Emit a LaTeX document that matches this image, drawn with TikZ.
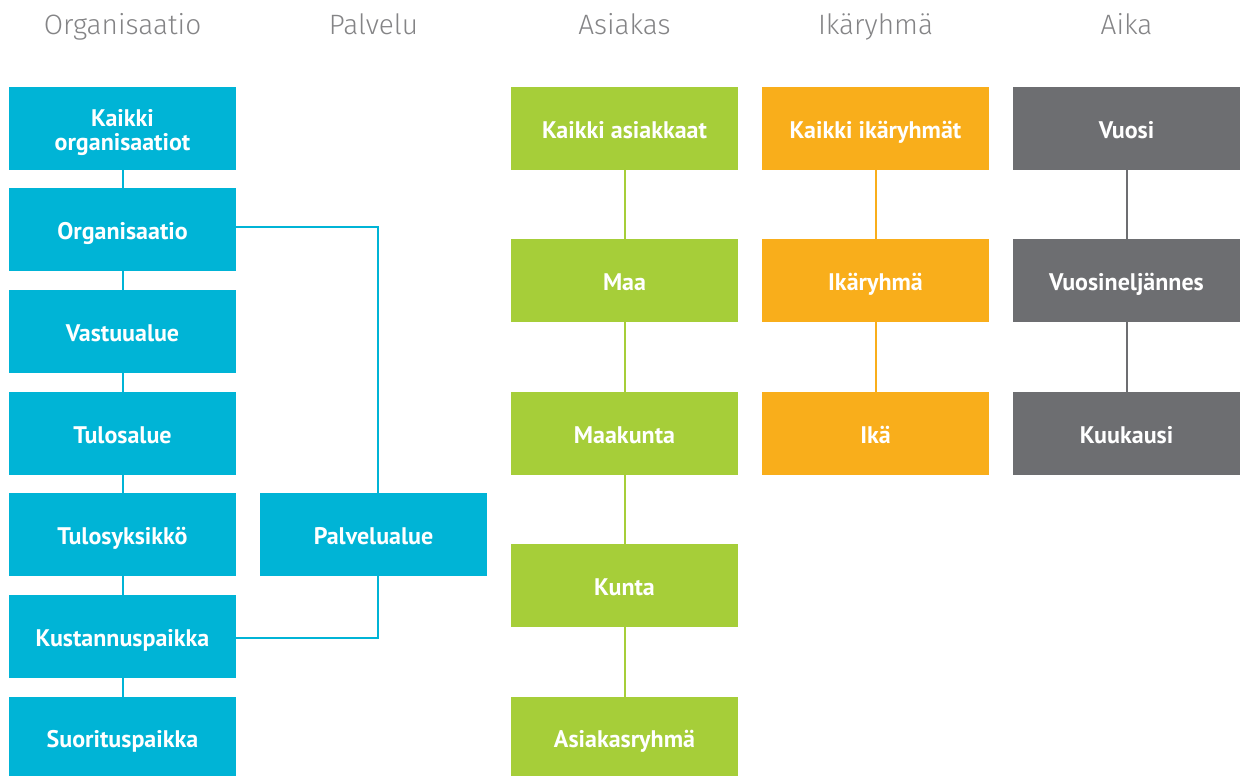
\documentclass[tikz,border=0pt]{standalone}
\usepackage{fontspec}
\setmainfont{PT Sans}
\newfontfamily\hdrfont{Fira Sans Light}
\definecolor{cyanbox}{RGB}{0,180,214}
\definecolor{greenbox}{RGB}{166,206,57}
\definecolor{orangebox}{RGB}{249,174,27}
\definecolor{graybox}{RGB}{109,110,113}
\definecolor{hdrgray}{RGB}{132,132,134}
\tikzset{
  box/.style={rectangle, inner sep=0pt, minimum width=227pt, minimum height=83pt,
    text height=20pt, text depth=0pt,
    text=white, font=\fontsize{24}{24}\selectfont\bfseries, align=center},
  lastbox/.style={box, minimum height=79pt, text height=22pt},
  twoline/.style={text height=43pt},
  cbox/.style={box, fill=cyanbox},
  gbox/.style={box, fill=greenbox},
  obox/.style={box, fill=orangebox},
  kbox/.style={box, fill=graybox},
  hdr/.style={anchor=base, inner sep=0pt, text=hdrgray, font=\hdrfont\fontsize{28}{34}\selectfont},
  link/.style={line width=2pt},
}
\begin{document}
\begin{tikzpicture}[x=1pt, y=-1pt]
\useasboundingbox (0,0) rectangle (1246,776);

% column headings
\node[hdr] (h1) at (122.5,35) {Organisaatio};
\node[hdr] (h2) at (373.5,35) {Palvelu};
\node[hdr] (h3) at (624.5,35) {Asiakas};
\node[hdr] (h4) at (875.5,35) {Ikäryhmä};
\node[hdr] (h5) at (1126.5,35) {Aika};

% organisation hierarchy
\node[cbox, twoline] (o1) at (122.5,128.5) {Kaikki\\organisaatiot};
\node[cbox] (o2) at (122.5,229.5) {Organisaatio};
\node[cbox] (o3) at (122.5,331.5) {Vastuualue};
\node[cbox] (o4) at (122.5,433.5) {Tulosalue};
\node[cbox] (o5) at (122.5,534.5) {Tulosyksikkö};
\node[cbox] (o6) at (122.5,636.5) {Kustannuspaikka};
\node[cbox, lastbox] (o7) at (122.5,736.5) {Suorituspaikka};

% service area
\node[cbox] (p1) at (373.5,534.5) {Palvelualue};

% customer hierarchy
\node[gbox] (a1) at (624.5,128.5) {Kaikki asiakkaat};
\node[gbox] (a2) at (624.5,280.5) {Maa};
\node[gbox] (a3) at (624.5,433.5) {Maakunta};
\node[gbox] (a4) at (624.5,585.5) {Kunta};
\node[gbox, lastbox] (a5) at (624.5,736.5) {Asiakasryhmä};

% age groups
\node[obox] (i1) at (875.5,128.5) {Kaikki ikäryhmät};
\node[obox] (i2) at (875.5,280.5) {Ikäryhmä};
\node[obox] (i3) at (875.5,433.5) {Ikä};

% time
\node[kbox] (t1) at (1126.5,128.5) {Vuosi};
\node[kbox] (t2) at (1126.5,280.5) {Vuosineljännes};
\node[kbox] (t3) at (1126.5,433.5) {Kuukausi};

% vertical links
\foreach \u/\v in {o1/o2,o2/o3,o3/o4,o4/o5,o5/o6,o6/o7}
  \draw[link, cyanbox] (\u.south) -- (\v.north);
\foreach \u/\v in {a1/a2,a2/a3,a3/a4,a4/a5}
  \draw[link, greenbox] (\u.south) -- (\v.north);
\foreach \u/\v in {i1/i2,i2/i3}
  \draw[link, orangebox] (\u.south) -- (\v.north);
\foreach \u/\v in {t1/t2,t2/t3}
  \draw[link, graybox] (\u.south) -- (\v.north);

% service area links
\coordinate (pjtop) at (378,227);
\coordinate (pjbot) at (378,638);
\draw[link, cyanbox] (o2.east |- pjtop) -- (pjtop) -- (pjtop |- p1.north);
\draw[link, cyanbox] (pjbot |- p1.south) -- (pjbot) -- (o6.east |- pjbot);
\end{tikzpicture}
\end{document}
